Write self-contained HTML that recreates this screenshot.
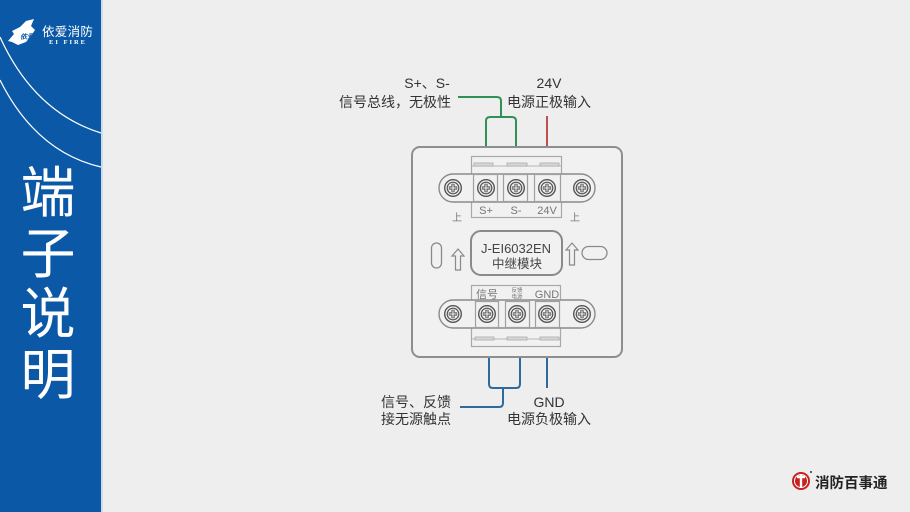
<!DOCTYPE html>
<html><head><meta charset="utf-8"><style>
html,body{margin:0;padding:0;background:#eeeeee;}
svg{display:block;}
text{font-family:"Liberation Sans","Noto Sans CJK SC",sans-serif;}
.cjk{font-family:"Noto Sans CJK SC","WenQuanYi Zen Hei",sans-serif;}
</style></head><body>
<svg width="910" height="512" viewBox="0 0 910 512" xmlns="http://www.w3.org/2000/svg">
<defs>
<g id="screw">
  <circle r="8.3" fill="#f3f3f3" stroke="#555" stroke-width="1.4"/>
  <circle r="5.8" fill="none" stroke="#555" stroke-width="1.2"/>
  <path d="M-4.2,0H4.2M0,-4.2V4.2" stroke="#555" stroke-width="3.2"/>
  <path d="M-3.6,0H3.6M0,-3.6V3.6" stroke="#f3f3f3" stroke-width="1.1"/>
</g>
</defs>
<rect width="910" height="512" fill="#eeeeee"/>
<!-- sidebar -->
<rect x="0" y="0" width="101" height="512" fill="#0b59a6"/>
<rect x="101" y="0" width="2" height="512" fill="#cddbea"/>
<path d="M0,37 Q34,112 101,133" fill="none" stroke="#ffffff" stroke-width="1.2"/>
<path d="M0,80 Q36,152 101,167" fill="none" stroke="#ffffff" stroke-width="1.2"/>
<!-- logo -->
<path d="M8,41 L14,34 L12,31 L20,27 L26,21 L34,19 L31,26 L35,30 L31,36 L26,42 L18,45 L12,42 Z" fill="#ffffff"/>
<text x="20" y="39" font-size="7" fill="#0b59a6" font-style="italic" font-weight="bold" class="cjk">依爱</text>
<text x="42" y="36" font-size="12.5" fill="#ffffff" class="cjk" letter-spacing="0.3">依爱消防</text>
<text x="49" y="44" font-size="6.5" fill="#ffffff" font-weight="bold" letter-spacing="2" style="font-family:'Liberation Serif',serif">EI FIRE</text>
<!-- title -->
<g fill="#ffffff" font-size="55" text-anchor="middle" class="cjk">
<text x="48" y="212" class="cjk">端</text>
<text x="48" y="273" class="cjk">子</text>
<text x="48" y="333" class="cjk">说</text>
<text x="48" y="394" class="cjk">明</text>
</g>

<!-- top wires -->
<path d="M458,97 H497 Q501,97 501,101 V117" fill="none" stroke="#2f9156" stroke-width="2"/>
<path d="M486,147 V121 Q486,117 490,117 H512 Q516,117 516,121 V147" fill="none" stroke="#2f9156" stroke-width="2"/>
<path d="M547,116 V147" stroke="#c0504d" stroke-width="2"/>
<!-- bottom wires -->
<path d="M489,358 V384 Q489,388 493,388 H516 Q520,388 520,384 V358" fill="none" stroke="#2c6aa0" stroke-width="2"/>
<path d="M503,388 V403 Q503,407 499,407 H460" fill="none" stroke="#2c6aa0" stroke-width="2"/>
<path d="M547,358 V388" stroke="#2c6aa0" stroke-width="2"/>

<!-- labels -->
<g fill="#333" font-size="14">
<text x="427" y="88" text-anchor="middle">S+、S-</text>
<text x="451" y="107" text-anchor="end">信号总线，无极性</text>
<text x="549" y="88" text-anchor="middle">24V</text>
<text x="549" y="107" text-anchor="middle">电源正极输入</text>
<text x="416" y="407" text-anchor="middle">信号、反馈</text>
<text x="416" y="424" text-anchor="middle">接无源触点</text>
<text x="549" y="407" text-anchor="middle">GND</text>
<text x="549" y="424" text-anchor="middle">电源负极输入</text>
</g>

<!-- panel -->
<rect x="412" y="147" width="210" height="210" rx="8" fill="#f1f1f1" stroke="#8e8e8e" stroke-width="2"/>

<!-- upper block -->
<rect x="471.5" y="156.5" width="90" height="61" fill="#f1f1f1" stroke="#a8a8a8" stroke-width="1.2"/>
<path d="M472,166 H561" stroke="#b5b5b5" stroke-width="1"/>
<rect x="474" y="163" width="19" height="3" fill="#d8d8d8" stroke="#aaa" stroke-width="0.8"/>
<rect x="507" y="163" width="20" height="3" fill="#d8d8d8" stroke="#aaa" stroke-width="0.8"/>
<rect x="540" y="163" width="19" height="3" fill="#d8d8d8" stroke="#aaa" stroke-width="0.8"/>
<rect x="439" y="174" width="156" height="28" rx="14" fill="#f1f1f1" stroke="#8a8a8a" stroke-width="1.4"/>
<rect x="473.5" y="174.5" width="24" height="27" fill="#f1f1f1" stroke="#a0a0a0" stroke-width="1.2"/>
<rect x="503.5" y="174.5" width="24" height="27" fill="#f1f1f1" stroke="#a0a0a0" stroke-width="1.2"/>
<rect x="534.5" y="174.5" width="26" height="27" fill="#f1f1f1" stroke="#a0a0a0" stroke-width="1.2"/>
<use href="#screw" x="453" y="188"/>
<use href="#screw" x="486" y="188"/>
<use href="#screw" x="516" y="188"/>
<use href="#screw" x="547" y="188"/>
<use href="#screw" x="582" y="188"/>
<g fill="#777" font-size="11" text-anchor="middle">
<text x="486" y="214">S+</text>
<text x="516" y="214">S-</text>
<text x="547" y="214">24V</text>
<text x="457" y="221" font-size="10">上</text>
<text x="575" y="221" font-size="10">上</text>
</g>

<!-- center label -->
<rect x="471" y="231" width="91" height="44" rx="10" fill="#f1f1f1" stroke="#8a8a8a" stroke-width="2"/>
<text x="516" y="253" font-size="13" fill="#444" text-anchor="middle">J-EI6032EN</text>
<text x="517" y="268" font-size="12.5" fill="#444" text-anchor="middle">中继模块</text>
<rect x="431.5" y="243" width="10" height="25" rx="5" fill="none" stroke="#8a8a8a" stroke-width="1.3"/>
<rect x="582" y="246.5" width="25" height="13" rx="6.5" fill="none" stroke="#8a8a8a" stroke-width="1.3"/>
<path d="M458,249 L464,256 H460.5 V270 H455.5 V256 H452 Z" fill="none" stroke="#8a8a8a" stroke-width="1.2"/>
<path d="M572,243 L578,250 H574.5 V265 H569.5 V250 H566 Z" fill="none" stroke="#8a8a8a" stroke-width="1.2"/>

<!-- lower block -->
<rect x="471.5" y="285.5" width="89" height="61" fill="#f1f1f1" stroke="#a8a8a8" stroke-width="1.2"/>
<path d="M472,339 H560" stroke="#b5b5b5" stroke-width="1"/>
<rect x="475" y="337" width="19" height="3" fill="#d8d8d8" stroke="#aaa" stroke-width="0.8"/>
<rect x="507" y="337" width="20" height="3" fill="#d8d8d8" stroke="#aaa" stroke-width="0.8"/>
<rect x="540" y="337" width="19" height="3" fill="#d8d8d8" stroke="#aaa" stroke-width="0.8"/>
<rect x="439" y="300" width="156" height="28" rx="14" fill="#f1f1f1" stroke="#8a8a8a" stroke-width="1.4"/>
<rect x="475.5" y="301.5" width="23" height="26" fill="#f1f1f1" stroke="#a0a0a0" stroke-width="1.2"/>
<rect x="505.5" y="301.5" width="24" height="26" fill="#f1f1f1" stroke="#a0a0a0" stroke-width="1.2"/>
<rect x="535.5" y="301.5" width="24" height="26" fill="#f1f1f1" stroke="#a0a0a0" stroke-width="1.2"/>
<use href="#screw" x="453" y="314"/>
<use href="#screw" x="487" y="314"/>
<use href="#screw" x="517" y="314"/>
<use href="#screw" x="547" y="314"/>
<use href="#screw" x="582" y="314"/>
<g fill="#777" text-anchor="middle">
<text x="487" y="298" font-size="11">信号</text>
<text x="517" y="292" font-size="5.5">反馈</text>
<text x="517" y="298.5" font-size="5.5">电源</text>
<text x="547" y="298" font-size="11">GND</text>
</g>

<!-- bottom right logo -->
<circle cx="801" cy="481" r="9" fill="#c8201e"/>
<circle cx="801" cy="481" r="6.5" fill="none" stroke="#ffffff" stroke-width="1"/>
<path d="M797,477 H805 M801,474 V488" stroke="#ffffff" stroke-width="2.4"/>
<circle cx="811" cy="472" r="1" fill="#333"/>
<text x="815" y="488" font-size="14.5" font-weight="bold" fill="#222" class="cjk">消防百事通</text>
</svg>
</body></html>
